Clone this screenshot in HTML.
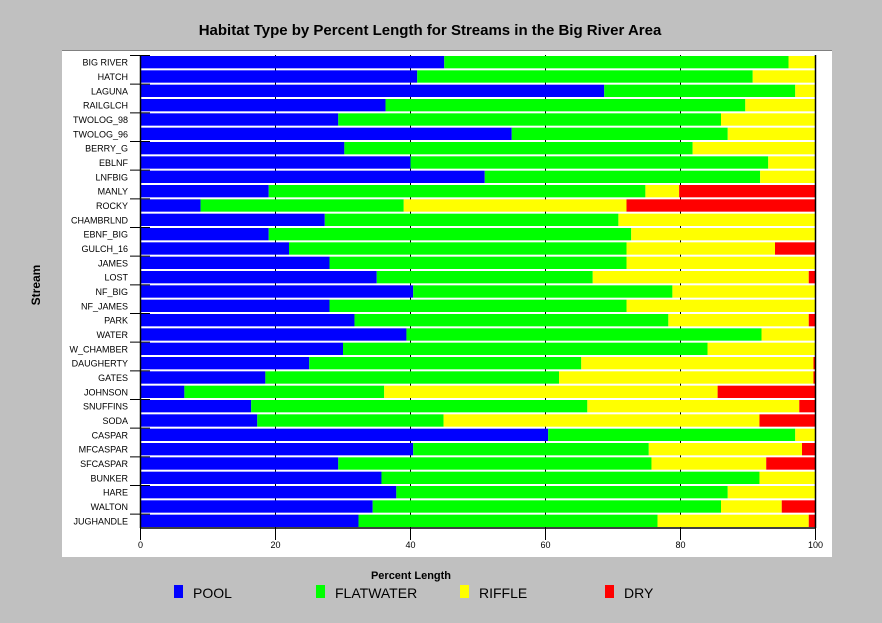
<!DOCTYPE html>
<html><head><meta charset="utf-8"><style>
body{margin:0;background:#c0c0c0;}
svg{display:block;font-family:"Liberation Sans",sans-serif;}
</style></head><body>
<svg id="c" width="882" height="623" viewBox="0 0 882 623">
<rect x="0" y="0" width="882" height="623" fill="#c0c0c0"/>
<rect x="62" y="50" width="770" height="507" fill="#fff"/>
<line x1="62" y1="50.5" x2="832" y2="50.5" stroke="#808080"/>
<text x="430" y="35" text-anchor="middle" font-size="15" font-weight="bold">Habitat Type by Percent Length for Streams in the Big River Area</text>
<text transform="translate(40,285) rotate(-90)" text-anchor="middle" font-size="12" font-weight="bold">Stream</text>
<text x="411" y="579" text-anchor="middle" font-size="11" font-weight="bold">Percent Length</text>
<g id="grid"></g><g id="bars"></g><g id="axes"></g><g id="legend"></g>
</svg>
<script>
const streams=["BIG RIVER","HATCH","LAGUNA","RAILGLCH","TWOLOG_98","TWOLOG_96","BERRY_G","EBLNF","LNFBIG","MANLY","ROCKY","CHAMBRLND","EBNF_BIG","GULCH_16","JAMES","LOST","NF_BIG","NF_JAMES","PARK","WATER","W_CHAMBER","DAUGHERTY","GATES","JOHNSON","SNUFFINS","SODA","CASPAR","MFCASPAR","SFCASPAR","BUNKER","HARE","WALTON","JUGHANDLE"];
const pool=[45,41,68.7,36.3,29.3,55,30.2,40,51,19,8.9,27.3,19,22,28,35,40.4,28,31.7,39.4,30,25,18.5,6.5,16.4,17.3,60.4,40.4,29.3,35.7,37.9,34.4,32.3];
const flatwater=[51,49.7,28.3,53.3,56.7,32,51.6,53,40.8,55.8,30.1,43.5,53.7,50,44,32,38.4,44,46.5,52.6,54,40.3,43.5,29.6,49.8,27.6,36.6,34.9,46.4,56,49.1,51.6,44.3];
const riffle=[4,9.3,3,10.4,14,13,18.2,7,8.2,5,33,29.2,27.3,22,28,32,21.2,28,20.8,8,16,34.4,37.7,49.4,31.4,46.8,3,22.7,17,8.3,13,9,22.4];
const dry=[0,0,0,0,0,0,0,0,0,20.2,28,0,0,6,0,1,0,0,1,0,0,0.3,0.3,14.5,2.4,8.3,0,2,7.3,0,0,5,1];
const xTicks=[0,20,40,60,80,100];
const seriesNames=["POOL","FLATWATER","RIFFLE","DRY"];
const colors=["#0000ff","#00ff00","#ffff00","#ff0000"];
const NS="http://www.w3.org/2000/svg";
const x0=140.5,x1=815.5,yTop=55,yBot=528;
const rowH=(yBot-yTop)/streams.length;
const xs=v=>x0+(x1-x0)*v/100;
const ys=i=>yTop+i*rowH;
function mk(tag,attrs,parent){const e=document.createElementNS(NS,tag);for(const k in attrs)e.setAttribute(k,attrs[k]);parent.appendChild(e);return e;}
const grid=document.getElementById('grid'),bars=document.getElementById('bars'),axes=document.getElementById('axes'),legend=document.getElementById('legend');
xTicks.forEach(t=>{
 const l=mk('line',{x1:xs(t),x2:xs(t),y1:yTop,y2:yBot+12,stroke:'#000','stroke-width':1},grid);
 
 
 const tx=mk('text',{x:xs(t),y:yBot+20,'text-anchor':'middle','font-size':9},axes);
 tx.textContent=t;
 
 
});
const data=[pool,flatwater,riffle,dry];
streams.forEach((s,i)=>{
 let acc=0;
 data.forEach((arr,k)=>{
  const v=arr[i];
  if(v>0){
   const r=mk('rect',{x:xs(acc),y:ys(i)+1,width:xs(acc+v)-xs(acc),height:rowH-2,fill:colors[k]},bars);
   
   
  }
  acc+=v;
 });
 const t=mk('text',{x:128,y:ys(i)+rowH/2+3.5,'text-anchor':'end','font-size':9},axes);
 t.textContent=s;
 
 
 if(i%2===0){
  const tk=mk('line',{x1:130,x2:150,y1:ys(i)+0.5,y2:ys(i)+0.5,stroke:'#000'},axes);
  
  
 }
});
let a=mk('line',{x1:x0,x2:x0,y1:yTop,y2:yBot,stroke:'#000','stroke-width':1.5},axes);

a=mk('line',{x1:x1,x2:x1,y1:yTop,y2:yBot,stroke:'#000','stroke-width':1.5},axes);

a=mk('line',{x1:x0,x2:x1,y1:yBot,y2:yBot,stroke:'#000','stroke-width':1.5},axes);

const legX=[174,316,460,605];
seriesNames.forEach((n,k)=>{
 const r=mk('rect',{x:legX[k],y:585,width:9,height:13,fill:colors[k]},legend);
 
 
 const t=mk('text',{x:legX[k]+19,y:598,'font-size':14},legend);
 t.textContent=n;
 
 
});
</script>
</body></html>
